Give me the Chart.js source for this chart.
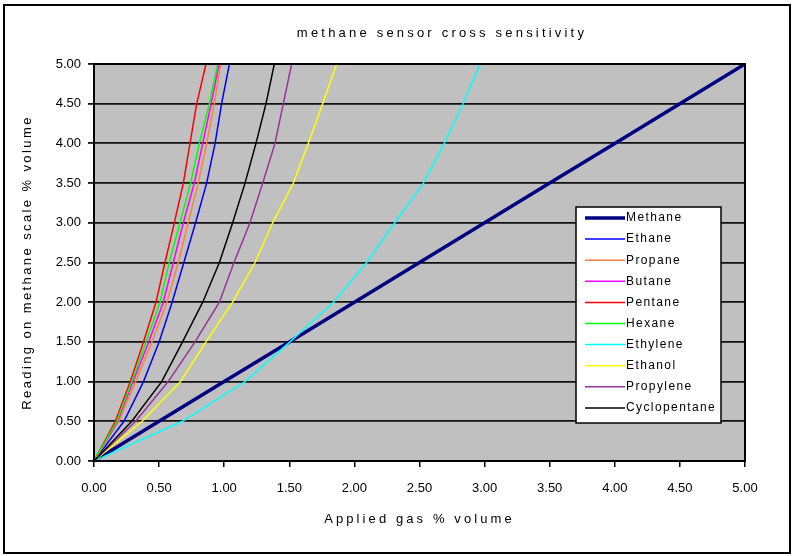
<!DOCTYPE html>
<html>
<head>
<meta charset="utf-8">
<title>methane sensor cross sensitivity</title>
<script src="https://cdn.jsdelivr.net/npm/chart.js@4.4.1/dist/chart.umd.min.js"></script>
<style>
  html, body { margin: 0; padding: 0; background: #fff; }
  #wrap { width: 795px; height: 556px; }
</style>
</head>
<body>
<div id="wrap"><canvas id="sensorChart" width="795" height="556"></canvas></div>
<script>
// reading on methane scale (y), shared by every gas
const readingLevels = [0, 0.5, 1, 1.5, 2, 2.5, 3, 3.5, 4, 4.5, 5];

// applied gas % volume (x) needed to reach each reading
const methane      = [0, 0.5, 1, 1.5, 2, 2.5, 3, 3.5, 4, 4.5, 5];
const ethane       = [0, 0.23, 0.38, 0.50, 0.60, 0.69, 0.78, 0.865, 0.93, 0.98, 1.04];
const propane      = [0, 0.19, 0.32, 0.445, 0.56, 0.647, 0.724, 0.80, 0.865, 0.924, 0.973];
const butane       = [0, 0.18, 0.30, 0.42, 0.532, 0.609, 0.686, 0.77, 0.835, 0.90, 0.96];
const pentane      = [0, 0.164, 0.279, 0.38, 0.476, 0.545, 0.617, 0.686, 0.737, 0.789, 0.86];
const hexane       = [0, 0.175, 0.29, 0.40, 0.507, 0.578, 0.66, 0.742, 0.809, 0.886, 0.95];
const ethylene     = [0, 0.68, 1.16, 1.505, 1.84, 2.094, 2.31, 2.53, 2.69, 2.834, 2.967];
const ethanol      = [0, 0.37, 0.665, 0.86, 1.065, 1.237, 1.372, 1.531, 1.646, 1.756, 1.864];
const propylene    = [0, 0.32, 0.57, 0.776, 0.963, 1.075, 1.198, 1.296, 1.39, 1.454, 1.518];
const cyclopentane = [0, 0.29, 0.52, 0.68, 0.835, 0.963, 1.065, 1.16, 1.244, 1.321, 1.385];

const gasNames  = ['Methane', 'Ethane', 'Propane', 'Butane', 'Pentane', 'Hexane', 'Ethylene', 'Ethanol', 'Propylene', 'Cyclopentane'];
const gasValues = [methane, ethane, propane, butane, pentane, hexane, ethylene, ethanol, propylene, cyclopentane];
const gasColors = ['#000080', '#0000ff', '#ff8040', '#ff00ff', '#ff0000', '#00ff00', '#00ffff', '#ffff00', '#993399', '#000000'];

const axisTicks = [0, 0.5, 1, 1.5, 2, 2.5, 3, 3.5, 4, 4.5, 5];

const fontFamily = '"Liberation Sans", Arial, sans-serif';

const datasets = gasNames.map((name, i) => ({
  label: name,
  data: gasValues[i].map((x, j) => ({ x: x, y: readingLevels[j] })),
  borderColor: gasColors[i],
  backgroundColor: gasColors[i],
  borderWidth: i === 0 ? 3.5 : 1.5,
  showLine: true,
  pointRadius: 0,
  tension: 0,
  order: gasNames.length - i
}));

function drawSpaced(ctx, text, x, y, spacing) {
  ctx.save();
  ctx.letterSpacing = spacing + 'px';
  ctx.fillText(text, x, y);
  ctx.restore();
}

const framePlugin = {
  id: 'frame',
  beforeDraw(chart) {
    const { ctx, chartArea: a } = chart;
    ctx.save();
    ctx.fillStyle = '#fff';
    ctx.fillRect(0, 0, chart.width, chart.height);
    ctx.fillStyle = '#c0c0c0';
    ctx.fillRect(a.left, a.top, a.right - a.left, a.bottom - a.top);
    ctx.restore();
  },
  afterDatasetsDraw(chart) {
    const { ctx, chartArea: a } = chart;
    ctx.save();
    ctx.strokeStyle = '#000';
    ctx.lineWidth = 2;
    ctx.strokeRect(a.left, a.top, a.right - a.left, a.bottom - a.top);
    ctx.restore();
  },
  afterDraw(chart) {
    const { ctx, chartArea: a } = chart;
    ctx.save();
    // outer chart border
    ctx.strokeStyle = '#000';
    ctx.lineWidth = 2;
    ctx.strokeRect(4, 5, 786, 548);

    // titles
    ctx.fillStyle = '#000';
    ctx.font = '13px ' + fontFamily;
    ctx.textAlign = 'center';
    ctx.textBaseline = 'middle';
    drawSpaced(ctx, 'methane sensor cross sensitivity', 442, 33, 3.2);
    drawSpaced(ctx, 'Applied gas % volume', (a.left + a.right) / 2, 519, 3.1);
    ctx.save();
    ctx.translate(27, (a.top + a.bottom) / 2);
    ctx.rotate(-Math.PI / 2);
    drawSpaced(ctx, 'Reading on methane scale % volume', 0, 0, 2.4);
    ctx.restore();

    // legend box
    const lg = { x: 576, y: 207, w: 145, h: 216, row: 21.1 };
    ctx.fillStyle = '#fff';
    ctx.fillRect(lg.x, lg.y, lg.w, lg.h);
    ctx.strokeStyle = '#000';
    ctx.lineWidth = 1.5;
    ctx.strokeRect(lg.x, lg.y, lg.w, lg.h);
    ctx.font = '12px ' + fontFamily;
    ctx.textAlign = 'left';
    chart.data.datasets.forEach((ds, i) => {
      const cy = lg.y + 11 + i * lg.row;
      ctx.strokeStyle = ds.borderColor;
      ctx.lineWidth = ds.borderWidth;
      ctx.beginPath();
      ctx.moveTo(lg.x + 9, cy);
      ctx.lineTo(lg.x + 49, cy);
      ctx.stroke();
      ctx.fillStyle = '#000';
      drawSpaced(ctx, ds.label, lg.x + 50, cy, 1.4);
    });
    ctx.restore();
  }
};

const ctx = document.getElementById('sensorChart').getContext('2d');
const sensorChart = new Chart(ctx, {
  type: 'scatter',
  data: { datasets: datasets },
  options: {
    responsive: false,
    animation: false,
    layout: { padding: { left: 6, top: 64, right: 50, bottom: 0 } },
    plugins: {
      legend: { display: false },
      tooltip: { enabled: false }
    },
    scales: {
      x: {
        type: 'linear',
        min: axisTicks[0],
        max: axisTicks[axisTicks.length - 1],
        afterBuildTicks: s => { s.ticks = axisTicks.map(v => ({ value: v })); },
        afterFit: s => { s.height = 95; },
        ticks: {
          color: '#000',
          font: { family: fontFamily, size: 13 },
          padding: 14,
          maxRotation: 0,
          autoSkip: false,
          callback: v => Number(v).toFixed(2)
        },
        grid: { drawOnChartArea: false, drawTicks: true, tickLength: 6, color: '#000', lineWidth: 1.5 },
        border: { display: true, color: '#000', width: 2 }
      },
      y: {
        type: 'linear',
        min: axisTicks[0],
        max: axisTicks[axisTicks.length - 1],
        afterBuildTicks: s => { s.ticks = axisTicks.map(v => ({ value: v })); },
        afterFit: s => { s.width = 88; },
        ticks: {
          color: '#000',
          font: { family: fontFamily, size: 13 },
          padding: 7,
          autoSkip: false,
          callback: v => Number(v).toFixed(2)
        },
        grid: { color: '#111', lineWidth: 1.8, tickLength: 6 },
        border: { display: true, color: '#000', width: 2 }
      }
    }
  },
  plugins: [framePlugin]
});
</script>
</body>
</html>
